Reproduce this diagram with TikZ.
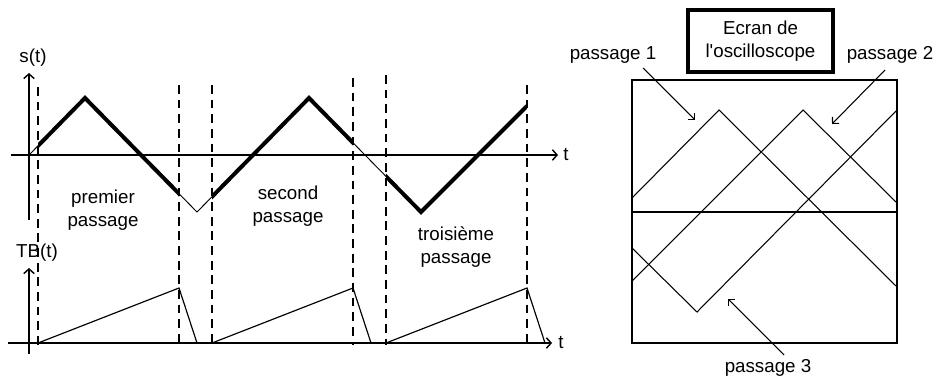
\documentclass[tikz,border=0pt]{standalone}
\usepackage{fontspec}
\setmainfont{Liberation Sans}
\usetikzlibrary{arrows.meta}

\tikzset{
  lbl/.style={font=\fontsize{16}{20}\selectfont, align=center, inner sep=0pt},
  axis/.style={line width=1.2pt, -{Straight Barb[length=4pt, width=9pt]}},
  guide/.style={line width=1pt, dash pattern=on 7.5pt off 5pt},
  signal/.style={line width=3.4pt},
  ramp/.style={line width=1pt},
  trace/.style={line width=0.9pt},
  pointer/.style={line width=0.9pt, -{Straight Barb[length=4pt, width=8pt]}},
  titlebox/.style={lbl, draw, line width=3pt, minimum width=43.5mm, minimum height=18.6mm},
}

\begin{document}
\begin{tikzpicture}[x=0.3mm, y=-0.3mm]
  \useasboundingbox (0,0) rectangle (941,378);

  % --- s(t) ---
  \draw[axis] (29,220) -- (29,73);
  \draw[axis] (11,155) -- (558,155);
  \node[lbl] (st) at (33,58) {s(t)};
  \node[lbl] (ts) at (566,155) {t};

  % --- TB(t) ---
  \draw[axis] (29,354) -- (29,268);
  \draw[axis] (8,343) -- (552,343);
  \node[lbl] (tb) at (37,253) {TB(t)};
  \node[lbl] (ttb) at (561,343) {t};

  % dashed limits of each pass
  \foreach \x/\top in {38/87, 179/85, 212/85, 353/78, 386/75, 527/85}
    \draw[guide] (\x,\top) -- (\x,345);

  % triangle signal, thick while the spot is traced
  \draw[line width=0.8pt] (29,155) -- (85,98) -- (197,212) -- (309,98) -- (421,212) -- (527,106);
  \foreach \a/\b in {38/179, 212/353, 386/527} {
    \begin{scope}
      \clip (\a,60) rectangle (\b,240);
      \draw[signal] (29,155) -- (85,98) -- (197,212) -- (309,98) -- (421,212) -- (527,106);
    \end{scope}
  }

  % time base ramps
  \foreach \a/\b in {38/179, 212/353, 386/527}
    \draw[ramp] (\a,343) -- (\b,288) -- ({\b+18},343);

  \node[lbl] (pass1) at (103,210) {premier\\passage};
  \node[lbl] (pass2) at (288,206) {second\\passage};
  \node[lbl] (pass3) at (456,247) {troisième\\passage};

  % --- oscilloscope screen ---
  \node[titlebox] (ecran) at (760.5,41) {Ecran de\\l\textquotesingle oscilloscope};
  \draw[line width=1.5pt] (632,80) rectangle (897,343);
  \draw[line width=1.5pt] (632,212) -- (897,212);
  \draw[trace] (632,198) -- (719,110) -- (897,287);
  \draw[trace] (632,281) -- (803,110) -- (897,203);
  \draw[trace] (632,248) -- (697,312) -- (897,110);

  \node[lbl] (lp1) at (613,55) {passage 1};
  \node[lbl] (lp2) at (890,55) {passage 2};
  \node[lbl] (lp3) at (768,368) {passage 3};
  \coordinate (p1a) at (643,68);
  \coordinate (p1b) at (695,120);
  \coordinate (p2a) at (885,70);
  \coordinate (p2b) at (832,124);
  \coordinate (p3a) at (784,355);
  \coordinate (p3b) at (728,299);
  \draw[pointer] (p1a) -- (p1b);
  \draw[pointer] (p2a) -- (p2b);
  \draw[pointer] (p3a) -- (p3b);
\end{tikzpicture}
\end{document}
